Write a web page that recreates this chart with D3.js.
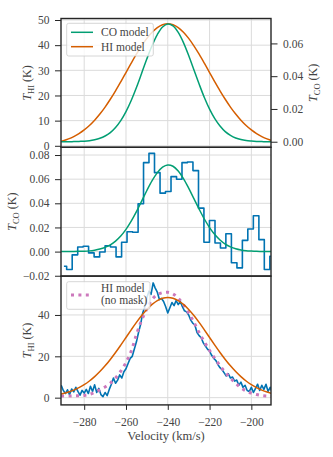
<!DOCTYPE html>
<html>
<head>
<meta charset="utf-8">
<script src="https://cdnjs.cloudflare.com/ajax/libs/d3/7.8.5/d3.min.js"></script>
<style>
  body { margin: 0; background: #fff; }
  text { font-family: "Liberation Serif", "Times New Roman", serif; fill: #444; }
</style>
</head>
<body>
<div id="svg_div"></div>
<script>
// velocity ticks (km/s)
var vel_ticks = [-280, -260, -240, -220, -200];

// model curves, sampled on a 2.5 km/s grid
var model_v = [-291, -290, -287.5, -285, -282.5, -280, -277.5, -275, -272.5, -270, -267.5, -265,
  -262.5, -260, -257.5, -255, -252.5, -250, -247.5, -245, -242.5, -240, -237.5, -235, -232.5,
  -230, -227.5, -225, -222.5, -220, -217.5, -215, -212.5, -210, -207.5, -205, -202.5, -200,
  -197.5, -195, -192.5, -190];
var hi_model = [1.76, 2.00, 2.73, 3.67, 4.85, 6.30, 8.07, 10.17, 12.61, 15.39, 18.49, 21.85,
  25.43, 29.12, 32.82, 36.40, 39.74, 42.69, 45.14, 46.98, 48.12, 48.50, 48.12, 46.98, 45.14,
  42.69, 39.74, 36.40, 32.82, 29.12, 25.43, 21.85, 18.49, 15.39, 12.61, 10.17, 8.07, 6.30,
  4.85, 3.67, 2.73, 2.00];
var co_model = [0.0000, 0.0000, 0.0000, 0.0001, 0.0002, 0.0003, 0.0006, 0.0012, 0.0021, 0.0035,
  0.0056, 0.0087, 0.0129, 0.0184, 0.0252, 0.0331, 0.0418, 0.0506, 0.0587, 0.0654, 0.0700,
  0.0718, 0.0707, 0.0667, 0.0605, 0.0526, 0.0439, 0.0352, 0.0270, 0.0199, 0.0141, 0.0096,
  0.0062, 0.0039, 0.0023, 0.0013, 0.0007, 0.0004, 0.0002, 0.0001, 0.0000, 0.0000];
var hi_nomask = [0.8, 0.8, 0.8, 0.9, 0.9, 1.1, 1.6, 2.6, 3.8, 5.2, 7.0, 9.5, 12.8, 17.0, 22.5,
  30.5, 37.5, 43.0, 47.5, 49.8, 50.8, 51.0, 50.2, 48.0, 45.0, 41.0, 36.5, 31.5, 27.0, 22.8,
  19.0, 15.5, 12.2, 9.5, 7.0, 4.8, 3.2, 2.2, 1.5, 1.0, 0.8, 0.7];

// CO spectrum (channel centres, K)
var co_v = [-289.7, -287.1, -284.4, -281.8, -279.2, -276.6, -273.9, -271.3, -268.7, -266.1,
  -263.4, -260.8, -258.2, -255.5, -252.9, -250.3, -247.7, -245.0, -242.4, -239.8, -237.1,
  -234.5, -231.9, -229.3, -226.6, -224.0, -221.4, -218.7, -216.1, -213.5, -210.9, -208.2,
  -205.6, -203.0, -200.4, -197.7, -195.1, -192.5, -189.8];
var co_data = [-0.0121, -0.0148, -0.0027, 0.0038, 0.0044, -0.0011, -0.0044, -0.0003, 0.0049,
  0.0038, -0.0044, 0.0077, 0.0165, 0.0160, 0.0396, 0.0737, 0.0814, 0.0654, 0.0484, 0.0498,
  0.0621, 0.0599, 0.0737, 0.0742, 0.0671, 0.0360, 0.0077, 0.0258, 0.0071, 0.0030, 0.0148,
  -0.0093, -0.0135, 0.0093, 0.0187, 0.0297, 0.0099, -0.0148, -0.0038];

// HI spectrum (K), 1 km/s channels
var hi_v = [-291, -290, -289, -288, -287, -286, -285, -284, -283, -282, -281, -280, -279, -278,
  -277, -276, -275, -274, -273, -272, -271, -270, -269, -268, -267, -266, -265, -264, -263,
  -262, -261, -260, -259, -258, -257, -256, -255, -254, -253, -252, -251, -250, -249, -248,
  -247, -246, -245, -244, -243, -242, -241, -240, -239, -238, -237, -236, -235, -234, -233,
  -232, -231, -230, -229, -228, -227, -226, -225, -224, -223, -222, -221, -220, -219, -218,
  -217, -216, -215, -214, -213, -212, -211, -210, -209, -208, -207, -206, -205, -204, -203,
  -202, -201, -200, -199, -198, -197, -196, -195, -194, -193, -192, -191, -190];
var hi_data = [6.0, 3.5, 2.0, 3.8, 1.5, 4.2, 2.8, 5.0, 3.0, 1.2, 3.5, 2.2, 4.0, 2.0, 5.5, 3.0,
  6.2, 2.5, 4.5, 1.5, 0.5, 2.5, 1.0, 4.0, 6.5, 9.5, 7.0, 8.5, 11.0, 9.5, 12.5, 14.0, 16.5,
  19.0, 20.0, 23.5, 27.0, 31.5, 35.5, 41.0, 44.0, 48.5, 51.5, 50.0, 55.5, 53.0, 51.0, 47.5,
  48.0, 46.5, 44.0, 41.0, 43.5, 46.0, 44.5, 47.0, 45.0, 46.5, 44.0, 42.0, 41.5, 40.0, 37.5,
  36.0, 35.0, 31.5, 30.0, 29.0, 26.5, 25.0, 23.5, 22.5, 20.5, 19.0, 18.0, 16.0, 14.5, 13.5,
  12.0, 10.5, 11.5, 9.5, 10.0, 8.0, 8.5, 6.0, 7.5, 5.0, 6.0, 3.5, 3.0, 5.0, 2.5, 4.5, 6.5,
  3.5, 6.0, 4.0, 6.5, 3.0, 5.0, 2.5];

var blue = "#0173b2", green = "#029e73", orange = "#d55e00", pink = "#cc78bc";

var w = 333, h = 457,
    left = 61, right = 271,
    tops = [18.5, 147.3, 276.1],
    ph = 128.8,
    fs = "11.5px";

var svg = d3.select("#svg_div").append("svg")
    .attr("width", w)
    .attr("height", h);

var x = d3.scaleLinear().domain([-291.1, -190.6]).range([left, right]);

var y1 = d3.scaleLinear().domain([-0.6, 50.6]).range([tops[0] + ph, tops[0]]),
    y1r = d3.scaleLinear().domain([-0.0034, 0.0752]).range([tops[0] + ph, tops[0]]),
    y2 = d3.scaleLinear().domain([-0.0203, 0.0864]).range([tops[1] + ph, tops[1]]),
    y3 = d3.scaleLinear().domain([-3.5, 58.8]).range([tops[2] + ph, tops[2]]);

function pairs(xs, ys) {
  return xs.map(function(v, i) { return [v, ys[i]]; });
}

function panel(i, ys, yticks) {
  var g = svg.append("g");
  g.append("clipPath").attr("id", "clip" + i)
    .append("rect")
      .attr("x", left).attr("y", tops[i])
      .attr("width", right - left).attr("height", ph);
  // grid
  g.selectAll("line.vg").data(vel_ticks).enter().append("line")
      .attr("x1", function(d) { return x(d); }).attr("x2", function(d) { return x(d); })
      .attr("y1", tops[i]).attr("y2", tops[i] + ph)
      .style("stroke", "#dbdbdb").style("stroke-width", 1);
  g.selectAll("line.hg").data(yticks).enter().append("line")
      .attr("y1", function(d) { return ys(d); }).attr("y2", function(d) { return ys(d); })
      .attr("x1", left).attr("x2", right)
      .style("stroke", "#dbdbdb").style("stroke-width", 1);
  return g.append("g").attr("clip-path", "url(#clip" + i + ")");
}

function drawLine(g, data, ys, color, width, curve) {
  return g.append("path")
      .datum(data)
      .attr("d", d3.line()
        .x(function(d) { return x(d[0]); })
        .y(function(d) { return ys(d[1]); })
        .curve(curve))
      .style("fill", "none")
      .style("stroke", color)
      .style("stroke-width", width)
      .style("stroke-linejoin", "round");
}

function styleAxis(a) {
  a.select(".domain").remove();
  a.selectAll(".tick line").style("stroke", "#262626").style("stroke-width", 1);
  a.selectAll(".tick text")
      .style("font-family", "'Liberation Serif', serif")
      .style("font-size", fs)
      .style("fill", "#444");
}

function ylabel(xp, yp, sub) {
  var t = svg.append("text")
      .attr("transform", "translate(" + xp + "," + yp + ") rotate(-90)")
      .attr("text-anchor", "middle")
      .attr("dy", "0.35em")
      .style("font-size", "12px");
  t.append("tspan").style("font-style", "italic").text("T");
  t.append("tspan").attr("dy", 2.6).style("font-size", "8.5px").text(sub);
  t.append("tspan").attr("dy", -2.6).text(" (K)");
}

function frame(i) {
  svg.append("rect")
      .attr("x", left).attr("y", tops[i])
      .attr("width", right - left).attr("height", ph)
      .style("fill", "none")
      .style("stroke", "#262626")
      .style("stroke-width", 1.4);
}

function legendBox(x0, y0, bw, bh) {
  svg.append("rect")
      .attr("x", x0).attr("y", y0)
      .attr("width", bw).attr("height", bh)
      .attr("rx", 2)
      .style("fill", "white").style("fill-opacity", 0.8)
      .style("stroke", "#cccccc").style("stroke-width", 0.8);
}

// ---- panel 1: models
var p1 = panel(0, y1, [0, 10, 20, 30, 40, 50]);
drawLine(p1, pairs(model_v, hi_model), y1, orange, 1.5, d3.curveCatmullRom);
drawLine(p1, pairs(model_v, co_model), y1r, green, 1.5, d3.curveCatmullRom);

// ---- panel 2: CO spectrum
var p2 = panel(1, y2, [-0.02, 0, 0.02, 0.04, 0.06, 0.08]);
drawLine(p2, pairs(co_v, co_data), y2, blue, 1.6, d3.curveStep);
drawLine(p2, pairs(model_v, co_model), y2, green, 1.5, d3.curveCatmullRom);

// ---- panel 3: HI spectrum
var p3 = panel(2, y3, [0, 20, 40]);
drawLine(p3, pairs(hi_v, hi_data), y3, blue, 1.6, d3.curveLinear);
drawLine(p3, pairs(model_v, hi_nomask), y3, pink, 3, d3.curveCatmullRom)
    .style("stroke-dasharray", "3,4.4")
    .style("stroke-linecap", "butt");
drawLine(p3, pairs(model_v, hi_model), y3, orange, 1.5, d3.curveCatmullRom);

// axes
styleAxis(svg.append("g").attr("transform", "translate(" + left + ",0)")
  .call(d3.axisLeft(y1).tickValues([0, 10, 20, 30, 40, 50]).tickSize(6).tickPadding(5.5)
    .tickFormat(d3.format("d"))));
styleAxis(svg.append("g").attr("transform", "translate(" + right + ",0)")
  .call(d3.axisRight(y1r).tickValues([0, 0.02, 0.04, 0.06]).tickSize(6.5).tickPadding(5.5)
    .tickFormat(d3.format(".2f"))));
styleAxis(svg.append("g").attr("transform", "translate(" + left + ",0)")
  .call(d3.axisLeft(y2).tickValues([-0.02, 0, 0.02, 0.04, 0.06, 0.08]).tickSize(6).tickPadding(5.5)
    .tickFormat(d3.format(".2f"))));
styleAxis(svg.append("g").attr("transform", "translate(" + left + ",0)")
  .call(d3.axisLeft(y3).tickValues([0, 20, 40]).tickSize(6).tickPadding(5.5)
    .tickFormat(d3.format("d"))));
styleAxis(svg.append("g").attr("transform", "translate(0," + (tops[2] + ph) + ")")
  .call(d3.axisBottom(x).tickValues(vel_ticks).tickSize(5).tickPadding(8)
    .tickFormat(d3.format("d"))));

frame(0); frame(1); frame(2);

ylabel(26.7, tops[0] + ph / 2, "HI");
ylabel(11.7, tops[1] + ph / 2, "CO");
ylabel(26.7, tops[2] + ph / 2, "HI");
ylabel(313, tops[0] + ph / 2, "CO");

svg.append("text")
    .attr("x", (left + right) / 2).attr("y", 439.5)
    .attr("text-anchor", "middle")
    .style("font-size", "12.5px")
    .text("Velocity (km/s)");

// legend, panel 1
legendBox(66.7, 23.3, 86.6, 32.7);
[["CO model", green, 32.3], ["HI model", orange, 46.7]].forEach(function(d) {
  svg.append("line").attr("x1", 71).attr("x2", 93).attr("y1", d[2]).attr("y2", d[2])
      .style("stroke", d[1]).style("stroke-width", 1.5);
  svg.append("text").attr("x", 101).attr("y", d[2] + 3.8)
      .style("font-size", fs).text(d[0]);
});

// legend, panel 3
legendBox(66.7, 281.7, 83.3, 27.6);
svg.append("line").attr("x1", 71).attr("x2", 91).attr("y1", 295).attr("y2", 295)
    .style("stroke", pink).style("stroke-width", 3)
    .style("stroke-dasharray", "3,4.4");
svg.append("text").attr("x", 101).attr("y", 291.5)
    .style("font-size", fs).text("HI model");
svg.append("text").attr("x", 101).attr("y", 303.8)
    .style("font-size", fs).text("(no mask)");
</script>
</body>
</html>
